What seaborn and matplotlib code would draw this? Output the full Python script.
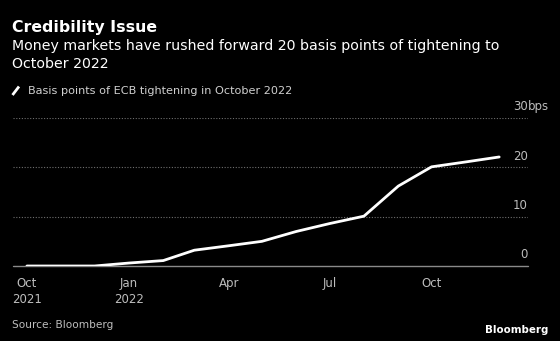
import matplotlib
matplotlib.use("Agg")
import matplotlib.pyplot as plt
from matplotlib.lines import Line2D
import seaborn as sns
import pandas as pd

# Month-end pricing of ECB tightening expected by October 2022 (basis points)
months = ["2021-10-01", "2021-11-01", "2021-12-01", "2022-01-01", "2022-02-01",
          "2022-03-01", "2022-04-01", "2022-05-01", "2022-06-01", "2022-07-01",
          "2022-08-01", "2022-09-01", "2022-10-01", "2022-11-01", "2022-12-01"]
bps = [0.0, 0.0, 0.0, 0.6, 1.1, 3.2, 4.1, 5.0, 7.0, 8.6, 10.1, 16.2, 20.1, 21.1, 22.1]

tick_dates = ["2021-10-01", "2022-01-01", "2022-04-01", "2022-07-01", "2022-10-01"]
tick_labels = ["Oct\n2021", "Jan\n2022", "Apr", "Jul", "Oct"]
y_ticks = [0, 10, 20, 30]

title = "Credibility Issue"
subtitle_lines = ["Money markets have rushed forward 20 basis points of tightening to",
                  "October 2022"]
legend_label = "Basis points of ECB tightening in October 2022"
source = "Source: Bloomberg"

df = pd.DataFrame({"date": pd.to_datetime(months), "bps": bps})

sns.set_theme(style="dark")
plt.rcParams["font.family"] = ["DejaVu Sans"]

BG = "#000000"
LABEL = "#bdbdbd"
W, H = 560, 341
fig = plt.figure(figsize=(W / 100, H / 100), dpi=100, facecolor=BG)


def fy(px):
    return 1 - px / H


left, right, top, bottom = 12.5, 528, 118, 266
ax = fig.add_axes([left / W, fy(bottom), (right - left) / W, (bottom - top) / H])
ax.set_facecolor(BG)

sns.lineplot(data=df, x="date", y="bps", ax=ax, color="white", linewidth=2.0,
             legend=False)

ax.set_xlim(pd.Timestamp("2021-09-18"), pd.Timestamp("2022-12-27"))
ax.set_ylim(0, 30)
ax.set_xlabel("")
ax.set_ylabel("")

# dotted horizontal gridlines and solid baseline
for v in y_ticks[1:]:
    ax.axhline(v, color="#6e6e6e", linewidth=0.8, linestyle=(0, (1, 1.5)), zorder=0)
ax.axhline(0, color="#8a8a8a", linewidth=1.0, zorder=1, clip_on=False)

ax.set_xticks(pd.to_datetime(tick_dates))
ax.set_xticklabels(tick_labels, linespacing=1.3)
ax.tick_params(axis="x", colors="#8a8a8a", length=4, width=1, direction="out",
               labelcolor=LABEL, labelsize=8.5, pad=4)
ax.set_yticks([])
for s in ax.spines.values():
    s.set_visible(False)
ax.grid(False)

# y-axis value labels sitting above each gridline, right aligned to its end
for v in y_ticks:
    ax.annotate(str(v), xy=(1, v), xycoords=("axes fraction", "data"),
                xytext=(0, 5.5), textcoords="offset points",
                ha="right", va="baseline", color=LABEL, fontsize=8.5)
ax.annotate("bps", xy=(1, y_ticks[-1]), xycoords=("axes fraction", "data"),
            xytext=(0, 5.5), textcoords="offset points",
            ha="left", va="baseline", color=LABEL, fontsize=8.5)

# titles
fig.text(12 / W, fy(32), title, color="white", fontsize=11.3, fontweight="bold",
         ha="left", va="baseline")
for i, line in enumerate(subtitle_lines):
    fig.text(12 / W, fy(50 + 17.5 * i), line, color="white", fontsize=10.2,
             ha="left", va="baseline")

# legend
fig.add_artist(Line2D([12.5 / W, 19 / W], [fy(95), fy(86.5)],
                      transform=fig.transFigure, color="white", linewidth=2.0,
                      solid_capstyle="butt"))
fig.text(28 / W, fy(94.5), legend_label, color="#d0d0d0", fontsize=8.1,
         ha="left", va="baseline")

# footer
fig.text(12 / W, fy(328.5), source, color=LABEL, fontsize=7.6,
         ha="left", va="baseline")
fig.text(548 / W, fy(333), "Bloomberg", color="white", fontsize=7.4,
         fontweight="bold", ha="right", va="baseline")

fig.savefig("out.png", dpi=100, facecolor=BG)
